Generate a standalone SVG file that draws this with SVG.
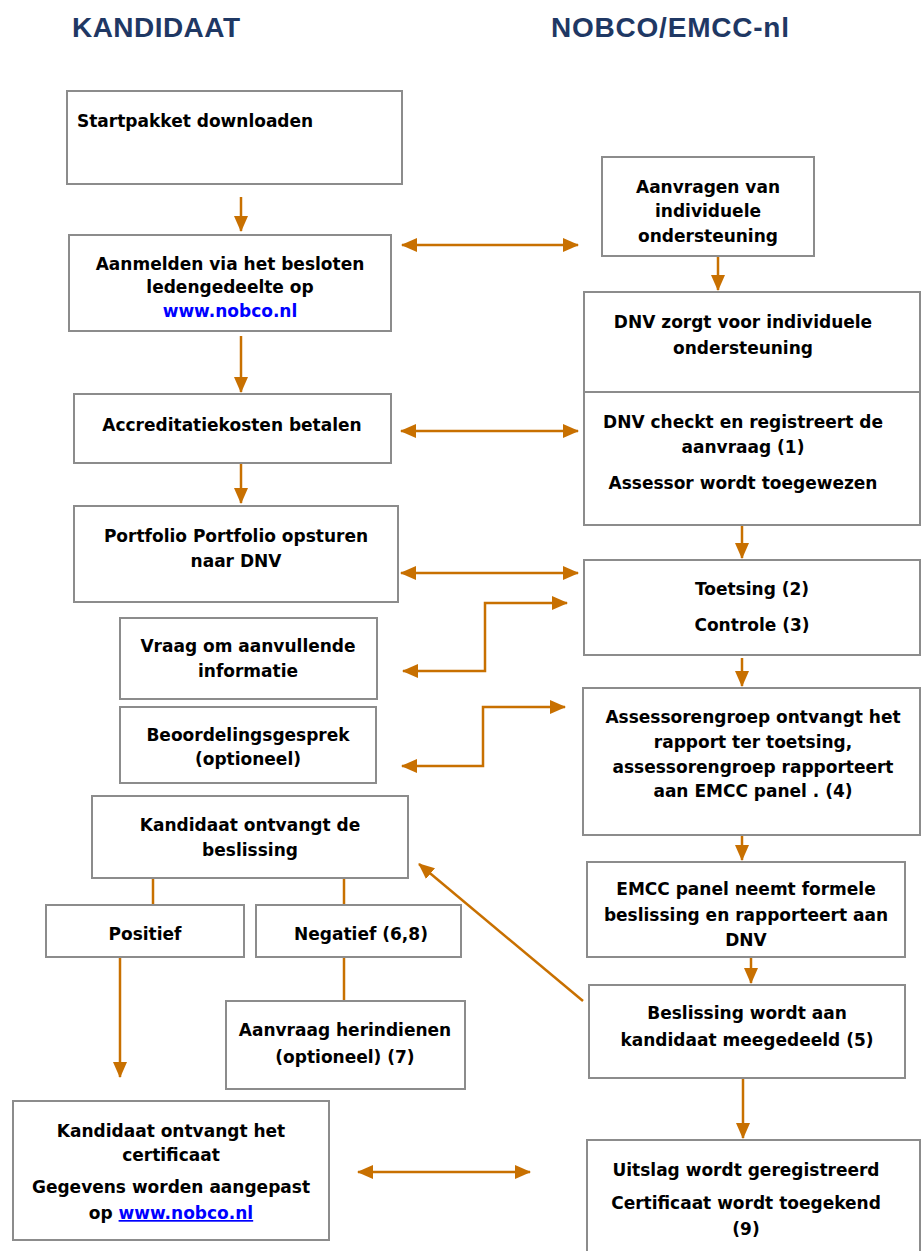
<svg xmlns="http://www.w3.org/2000/svg" width="921" height="1251" viewBox="0 0 921 1251">
<style>
.box{fill:#fff;stroke:#8c8c8c;stroke-width:2}
.t{font-family:"DejaVu Sans","Liberation Sans",sans-serif;font-weight:bold;font-size:17px;fill:#000;text-anchor:middle}
.l{fill:#00f}
.h{font-family:"Liberation Sans",Arial,sans-serif;font-weight:bold;font-size:28px;fill:#1f3864}
.c{stroke:#c87000;stroke-width:2.5;fill:none}
</style>
<defs>
<marker id="as" markerWidth="16" markerHeight="14" refX="15" refY="7" orient="auto-start-reverse" markerUnits="userSpaceOnUse" viewBox="0 0 16 14"><path d="M0,0 L16,7 L0,14 z" fill="#c87000"/></marker>
</defs>
<text class="h" x="72" y="37" textLength="168">KANDIDAAT</text>
<text class="h" x="551" y="37" textLength="238">NOBCO/EMCC-nl</text>

<g id="connectors">
<path class="c" d="M241,197 V231" marker-end="url(#as)"/>
<path class="c" d="M402,245 H578" marker-start="url(#as)" marker-end="url(#as)"/>
<path class="c" d="M718,256 V290" marker-end="url(#as)"/>
<path class="c" d="M241,336 V392" marker-end="url(#as)"/>
<path class="c" d="M401,431 H578" marker-start="url(#as)" marker-end="url(#as)"/>
<path class="c" d="M241,459 V503" marker-end="url(#as)"/>
<path class="c" d="M401,573 H578" marker-start="url(#as)" marker-end="url(#as)"/>
<path class="c" d="M742,525 V558" marker-end="url(#as)"/>
<path class="c" d="M403,671 H485 V603 H567" marker-start="url(#as)" marker-end="url(#as)"/>
<path class="c" d="M402,766 H483 V707 H565" marker-start="url(#as)" marker-end="url(#as)"/>
<path class="c" d="M742,658 V686" marker-end="url(#as)"/>
<path class="c" d="M742,836 V860" marker-end="url(#as)"/>
<path class="c" d="M751,958 V983" marker-end="url(#as)"/>
<path class="c" d="M583,1001 L419,864" marker-end="url(#as)"/>
<path class="c" d="M153,878 V905"/>
<path class="c" d="M344,878 V905"/>
<path class="c" d="M120,957 V1077" marker-end="url(#as)"/>
<path class="c" d="M344,957 V1001"/>
<path class="c" d="M743,1078 V1138" marker-end="url(#as)"/>
<path class="c" d="M358,1172 H530" marker-start="url(#as)" marker-end="url(#as)"/>
</g>

<g id="n1"><rect class="box" x="67" y="91" width="335" height="93"/>
<text class="t" x="77" y="127" style="text-anchor:start">Startpakket downloaden</text></g>

<g id="n2"><rect class="box" x="69" y="235" width="322" height="96"/>
<text class="t" x="230" y="270">Aanmelden via het besloten</text>
<text class="t" x="230" y="293">ledengedeelte op</text>
<text class="t l" x="230" y="317">www.nobco.nl</text></g>

<g id="n3"><rect class="box" x="602" y="157" width="212" height="99"/>
<text class="t" x="708" y="193">Aanvragen van</text>
<text class="t" x="708" y="217">individuele</text>
<text class="t" x="708" y="242">ondersteuning</text></g>

<g id="n4"><rect class="box" x="584" y="292" width="336" height="100"/>
<text class="t" x="743" y="328">DNV  zorgt voor individuele</text>
<text class="t" x="743" y="354">ondersteuning</text></g>

<g id="n5"><rect class="box" x="584" y="392" width="336" height="133"/>
<text class="t" x="743" y="428">DNV checkt en registreert de</text>
<text class="t" x="743" y="453">aanvraag (1)</text>
<text class="t" x="743" y="489">Assessor wordt toegewezen</text></g>

<g id="n6"><rect class="box" x="74" y="394" width="317" height="69"/>
<text class="t" x="232" y="431">Accreditatiekosten betalen</text></g>

<g id="n7"><rect class="box" x="74" y="506" width="324" height="96"/>
<text class="t" x="236" y="542">Portfolio Portfolio opsturen</text>
<text class="t" x="236" y="567">naar DNV</text></g>

<g id="n8"><rect class="box" x="584" y="560" width="336" height="95"/>
<text class="t" x="752" y="595">Toetsing (2)</text>
<text class="t" x="752" y="631">Controle (3)</text></g>

<g id="n9"><rect class="box" x="120" y="618" width="257" height="81"/>
<text class="t" x="248" y="652">Vraag om aanvullende</text>
<text class="t" x="248" y="677">informatie</text></g>

<g id="n10"><rect class="box" x="120" y="707" width="256" height="76"/>
<text class="t" x="248" y="741">Beoordelingsgesprek</text>
<text class="t" x="248" y="765">(optioneel)</text></g>

<g id="n11"><rect class="box" x="583" y="688" width="337" height="147"/>
<text class="t" x="753" y="723">Assessorengroep ontvangt het</text>
<text class="t" x="753" y="748">rapport ter toetsing,</text>
<text class="t" x="753" y="773">assessorengroep rapporteert</text>
<text class="t" x="753" y="797">aan EMCC panel . (4)</text></g>

<g id="n12"><rect class="box" x="92" y="796" width="316" height="82"/>
<text class="t" x="250" y="831">Kandidaat ontvangt de</text>
<text class="t" x="250" y="856">beslissing</text></g>

<g id="n13"><rect class="box" x="46" y="905" width="198" height="52"/>
<text class="t" x="145" y="940">Positief</text></g>

<g id="n14"><rect class="box" x="256" y="905" width="205" height="52"/>
<text class="t" x="361" y="940">Negatief (6,8)</text></g>

<g id="n15"><rect class="box" x="587" y="862" width="318" height="95"/>
<text class="t" x="746" y="895">EMCC panel neemt formele</text>
<text class="t" x="746" y="921">beslissing en rapporteert aan</text>
<text class="t" x="746" y="946">DNV</text></g>

<g id="n16"><rect class="box" x="226" y="1001" width="239" height="88"/>
<text class="t" x="345" y="1036">Aanvraag herindienen</text>
<text class="t" x="345" y="1063">(optioneel) (7)</text></g>

<g id="n17"><rect class="box" x="589" y="985" width="316" height="93"/>
<text class="t" x="747" y="1019">Beslissing wordt aan</text>
<text class="t" x="747" y="1046">kandidaat meegedeeld (5)</text></g>

<g id="n18"><rect class="box" x="13" y="1101" width="316" height="139"/>
<text class="t" x="171" y="1137">Kandidaat ontvangt het</text>
<text class="t" x="171" y="1161">certificaat</text>
<text class="t" x="171" y="1193">Gegevens worden aangepast</text>
<text class="t" x="171" y="1219">op <tspan class="l" text-decoration="underline">www.nobco.nl</tspan></text></g>

<g id="n19"><rect class="box" x="587" y="1140" width="333" height="120"/>
<text class="t" x="746" y="1176">Uitslag wordt geregistreerd</text>
<text class="t" x="746" y="1209">Certificaat wordt toegekend</text>
<text class="t" x="746" y="1235">(9)</text></g>
</svg>
